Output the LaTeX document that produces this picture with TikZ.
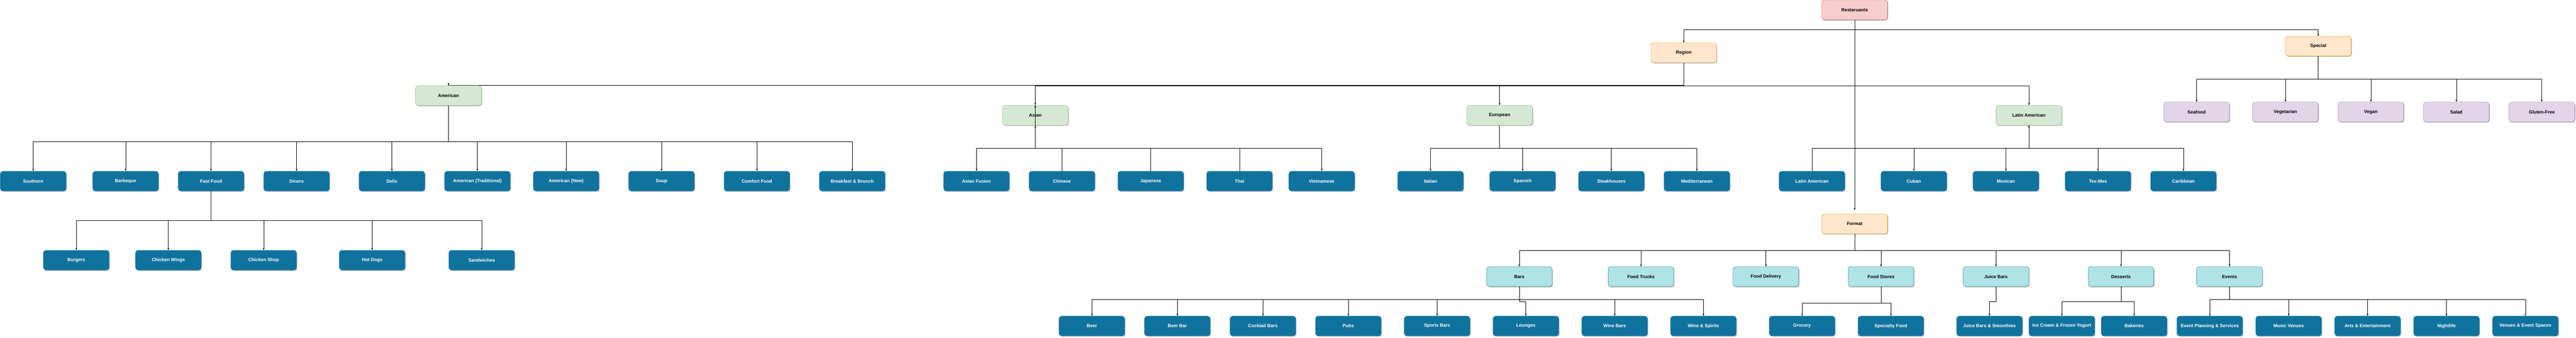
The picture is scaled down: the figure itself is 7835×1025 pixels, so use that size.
\documentclass[tikz,border=0pt]{standalone}
\usepackage{fontspec}
\setmainfont{Liberation Sans}
\usetikzlibrary{arrows.meta,shadows,backgrounds}

\definecolor{rootfill}{HTML}{F8CECC}
\definecolor{rootline}{HTML}{B85450}
\definecolor{kindfill}{HTML}{FFE6CC}
\definecolor{kindline}{HTML}{D79B00}
\definecolor{areafill}{HTML}{D5E8D4}
\definecolor{arealine}{HTML}{82B366}
\definecolor{dietfill}{HTML}{E1D5E7}
\definecolor{dietline}{HTML}{9673A6}
\definecolor{fmtfill}{HTML}{B0E3E6}
\definecolor{fmtline}{HTML}{0E8088}
\definecolor{leaffill}{HTML}{10739E}

\tikzset{
  box/.style={rounded corners=8pt, minimum width=200pt, minimum height=60pt,
    inner sep=0pt, line width=0.75pt, font=\fontsize{14}{16}\selectfont\bfseries,
    drop shadow={shadow xshift=2pt, shadow yshift=-2.5pt, opacity=0.25, fill=black}},
  rootbox/.style={box, fill=rootfill, draw=rootline},
  kindbox/.style={box, fill=kindfill, draw=kindline},
  areabox/.style={box, fill=areafill, draw=arealine},
  dietbox/.style={box, fill=dietfill, draw=dietline},
  fmtbox/.style={box, fill=fmtfill, draw=fmtline},
  leafbox/.style={box, fill=leaffill, draw=leaffill, text=white},
  arr/.style={-{Stealth[length=7pt,width=5pt]}, line width=0.8pt},
  link/.style={line width=0.8pt},
}

\begin{document}
\begin{tikzpicture}[x=1pt,y=-1pt]
  \useasboundingbox (0,0) rectangle (7835,1025);

  % top levels
  \node[rootbox] (rest) at (5641,30) {Restaruants};
  \node[kindbox] (region) at (5121,160) {Region};
  \node[kindbox] (special) at (7051,140) {Special};
  \node[kindbox] (format) at (5641,680) {Format};

  \node[areabox] (american) at (1364,290) {American};
  \node[areabox] (asian) at (3149,350) {Asian};
  \node[areabox] (european) at (4561,350) {European};
  \node[areabox] (latin) at (6171,350) {Latin American};

  % leaves
  \foreach \n/\x/\t in {southern/101/Southern, barbeque/382/Barbeque, fastfood/642/Fast Food,
      diners/902/Diners, delis/1192/Delis, amtrad/1452/American (Traditional),
      amnew/1722/American (New), soup/2012/Soup, comfort/2302/Comfort Food,
      brunch/2592/Breakfast \& Brunch,
      fusion/2970/Asian Fusion, chinese/3230/Chinese, japanese/3500/Japanese,
      thai/3770/Thai, vietnam/4020/Vietnamese,
      italian/4351/Italian, spanish/4631/Spanish, steak/4901/Steakhouses,
      medit/5161/Mediterranean,
      latinam/5511/Latin American, cuban/5821/Cuban, mexican/6101/Mexican,
      texmex/6381/Tex-Mex, caribbean/6641/Caribbean}
    \node[leafbox] (\n) at (\x,550) {\t};

  \foreach \n/\x/\t in {burgers/232/Burgers, wings/512/Chicken Wings, chickshop/802/Chicken Shop,
      hotdogs/1132/Hot Dogs, sandwich/1465/Sandwiches}
    \node[leafbox] (\n) at (\x,790) {\t};

  \foreach \n/\x/\t in {seafood/6681/Seafood, veget/6951/Vegetarian, vegan/7211/Vegan,
      salad/7471/Salad, gluten/7731/Gluten-Free}
    \node[dietbox] (\n) at (\x,340) {\t};

  \foreach \n/\x/\t in {bars/4621/Bars, trucks/4991/Food Trucks, delivery/5371/Food Delivery,
      stores/5721/Food Stores, juice/6071/Juice Bars, desserts/6451/Desserts,
      events/6781/Events}
    \node[fmtbox] (\n) at (\x,840) {\t};

  \foreach \n/\x/\t in {beer/3321/Beer, beerbar/3581/Beer Bar, cocktail/3841/Cocktail Bars,
      pubs/4101/Pubs, sports/4371/Sports Bars, lounges/4641/Lounges,
      winebars/4911/Wine Bars, winesp/5181/Wine \& Spirits,
      grocery/5481/Grocery, specialty/5751/Specialty Food,
      smoothie/6051/Juice Bars \& Smoothies, icecream/6271/Ice Cream \& Frozen Yogurt,
      bakeries/6491/Bakeries, planning/6721/Event Planning \& Services,
      music/6961/Music Venues, arts/7201/Arts \& Entertainment,
      nightlife/7441/Nightlife, venues/7681/Venues \& Event Spaces}
    \node[leafbox] (\n) at (\x,990) {\t};

  % bus levels
  \coordinate (topbus) at (0,90);
  \coordinate (regbus) at (0,260);
  \coordinate (specbus) at (0,240);
  \coordinate (amebus) at (0,430);
  \coordinate (areabus) at (0,450);
  \coordinate (fastbus) at (0,670);
  \coordinate (fmtbus) at (0,760);
  \coordinate (barbus) at (0,910);
  \coordinate (jogbus) at (0,915);
  \coordinate (storebus) at (0,920);

  \begin{scope}[on background layer]
    \foreach \n in {region,special}
      \draw[arr] (rest.south) -- (rest.south |- topbus) -| (\n.north);
    \draw[arr] (rest.south) -- ([yshift=11pt]format.north);

    \draw[link] (region.south) |- (american.north);
    \foreach \n in {asian,european,latin}
      \draw[arr] (region.south) -- (region.south |- regbus) -| (\n.north);

    \foreach \n in {southern,barbeque,fastfood,diners,delis,amtrad,amnew,soup,comfort,brunch}
      \draw[arr] (american.south) -- (american.south |- amebus) -| (\n.north);
    \foreach \n in {burgers,wings,chickshop,hotdogs,sandwich}
      \draw[arr] (fastfood.south) -- (fastfood.south |- fastbus) -| (\n.north);

    \foreach \n in {fusion,vietnam}
      \draw[arr] (asian.south) -- (asian.south |- areabus) -| (\n.north);
    \foreach \n in {chinese,japanese,thai}
      \draw[link] (asian.south) -- (asian.south |- areabus) -| (\n.north);
    \foreach \n in {italian,spanish,steak,medit}
      \draw[arr] (european.south) -- (european.south |- areabus) -| (\n.north);
    \draw[link] (latin.south) -- (latin.south |- areabus) -| (latinam.north);
    \foreach \n in {cuban,mexican,texmex,caribbean}
      \draw[arr] (latin.south) -- (latin.south |- areabus) -| (\n.north);

    \foreach \n in {seafood,veget,vegan,salad,gluten}
      \draw[arr] (special.south) -- (special.south |- specbus) -| (\n.north);

    \foreach \n in {bars,trucks,delivery,stores,juice,desserts,events}
      \draw[arr] (format.south) -- (format.south |- fmtbus) -| (\n.north);
    \foreach \n in {beer,beerbar,cocktail,pubs,sports,winebars,winesp}
      \draw[arr] (bars.south) -- (bars.south |- barbus) -| (\n.north);
    \draw[arr] (bars.south) -- (bars.south |- jogbus) -| (lounges.north);
    \foreach \n in {grocery,specialty}
      \draw[arr] (stores.south) -- (stores.south |- storebus) -| (\n.north);
    \draw[arr] (juice.south) -- (juice.south |- jogbus) -| (smoothie.north);
    \foreach \n in {icecream,bakeries}
      \draw[arr] (desserts.south) -- (desserts.south |- jogbus) -| (\n.north);
    \foreach \n in {planning,music,arts,nightlife,venues}
      \draw[arr] (events.south) -- (events.south |- barbus) -| (\n.north);
  \end{scope}

  % arrows drawn over the boxes
  \draw[arr] ([yshift=7pt]american.north) -- (american.north);
  \draw[arr] (asian.south |- areabus) -- (asian.south);
  \draw[arr] (asian.south) -- (asian.north);
  \draw[arr] (latin.south |- areabus) -- (latin.south);
\end{tikzpicture}
\end{document}
